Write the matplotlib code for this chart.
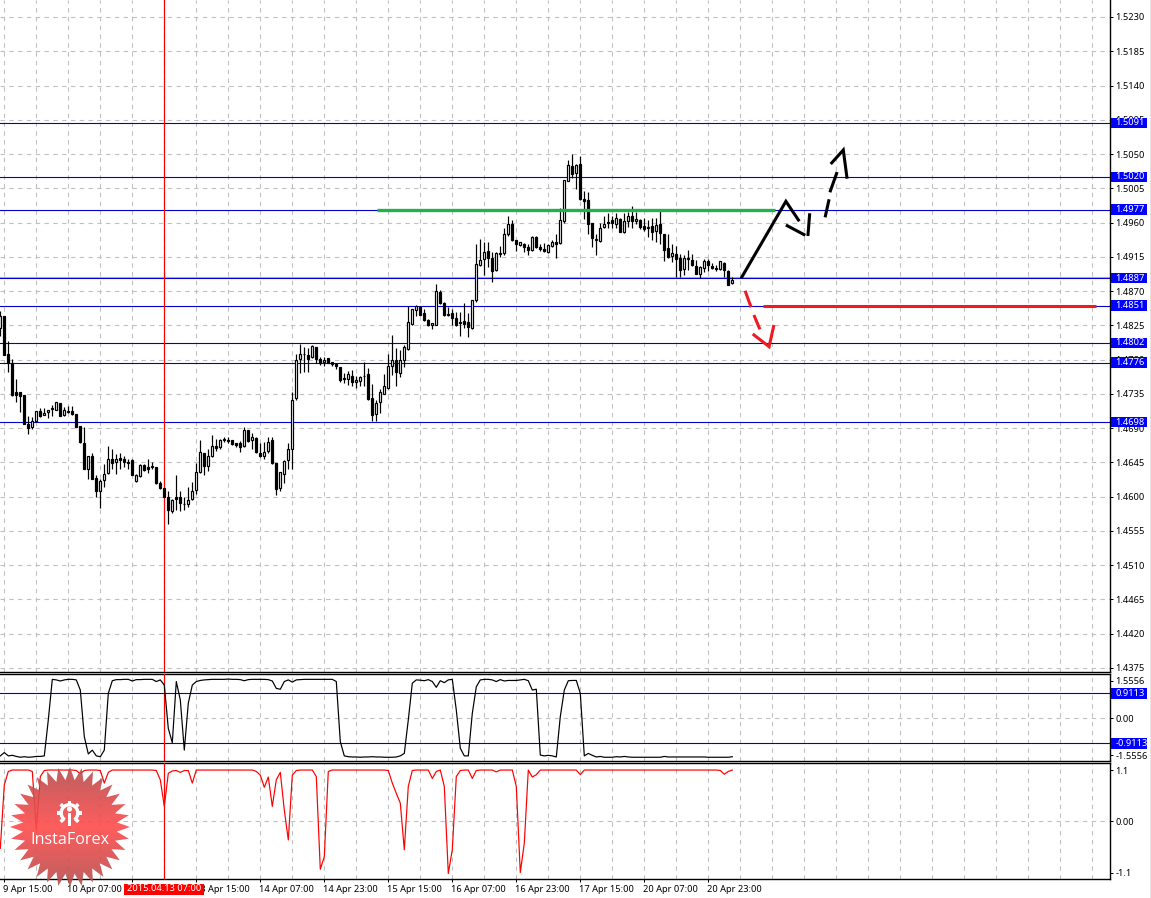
import numpy as np
import matplotlib
matplotlib.use("Agg")
import matplotlib.pyplot as plt
from matplotlib.patches import Rectangle, Polygon, Wedge, Circle
from matplotlib.transforms import ScaledTranslation

plt.rcParams['font.family'] = ['Noto Sans', 'DejaVu Sans']

# ---- data (prices x 10000) ----
opens = [14821,14837,14788,14775,14737,14737,14733,14696,14691,14699,14712,14707,14711,14715,14714,14723,14707,14713,14713,14708,14693,14671,14636,14654,14624,14607,14622,14631,14649,14646,14651,14649,14646,14648,14620,14627,14641,14639,14639,14639,14618,14611,14599,14581,14599,14599,14590,14591,14597,14609,14632,14658,14640,14653,14666,14665,14676,14675,14675,14670,14670,14667,14687,14675,14677,14658,14653,14660,14674,14644,14611,14630,14648,14662,14729,14781,14787,14786,14783,14797,14781,14777,14782,14777,14774,14770,14756,14754,14759,14750,14752,14759,14761,14729,14708,14724,14735,14743,14772,14780,14763,14779,14794,14827,14845,14849,14841,14832,14825,14826,14869,14854,14840,14841,14835,14830,14831,14830,14822,14858,14904,14912,14923,14914,14898,14920,14920,14945,14958,14937,14930,14932,14928,14924,14941,14928,14925,14921,14929,14934,14933,14962,15015,15034,15025,15037,14991,14990,14960,14939,14936,14954,14961,14963,14958,14965,14948,14962,14968,14962,14964,14956,14954,14955,14949,14958,14945,14926,14916,14919,14913,14899,14913,14911,14903,14892,14900,14909,14903,14900,14899,14907,14897,14880]
highs = [14844,14837,14804,14781,14754,14737,14733,14706,14705,14712,14716,14716,14714,14720,14724,14723,14718,14719,14719,14708,14693,14691,14654,14657,14629,14623,14643,14667,14662,14656,14657,14654,14650,14649,14630,14643,14643,14649,14645,14639,14620,14611,14607,14597,14629,14608,14600,14613,14619,14644,14675,14658,14663,14681,14676,14676,14678,14678,14675,14670,14673,14691,14688,14683,14679,14670,14672,14679,14679,14644,14632,14648,14670,14738,14787,14801,14796,14795,14799,14797,14783,14783,14782,14777,14775,14770,14762,14765,14766,14758,14759,14777,14769,14748,14727,14741,14761,14787,14812,14795,14793,14799,14850,14847,14852,14850,14847,14833,14828,14879,14872,14856,14849,14847,14842,14842,14855,14841,14858,14932,14938,14934,14934,14921,14922,14929,14953,14968,14964,14937,14935,14933,14932,14942,14942,14932,14933,14932,14937,14945,14979,15016,15042,15050,15037,15047,15002,15000,14960,14945,14959,14968,14972,14969,14972,14966,14972,14974,14982,14974,14965,14966,14963,14966,14966,14978,14945,14945,14932,14929,14919,14917,14924,14919,14911,14903,14912,14912,14907,14904,14910,14908,14898,14888]
lows = [14811,14786,14764,14732,14724,14711,14695,14682,14689,14698,14705,14707,14703,14706,14714,14706,14706,14710,14707,14691,14670,14636,14623,14623,14599,14585,14613,14630,14637,14630,14636,14639,14636,14628,14619,14626,14634,14631,14636,14617,14610,14599,14564,14578,14583,14581,14582,14586,14595,14604,14631,14628,14634,14652,14660,14662,14672,14670,14668,14665,14659,14665,14672,14662,14657,14652,14650,14658,14643,14602,14607,14618,14636,14637,14727,14763,14764,14764,14782,14775,14773,14772,14775,14772,14768,14751,14749,14747,14746,14743,14745,14745,14727,14700,14700,14710,14735,14741,14760,14745,14757,14770,14793,14826,14837,14838,14831,14824,14820,14825,14853,14837,14837,14825,14824,14811,14822,14810,14820,14856,14903,14891,14902,14882,14896,14915,14918,14943,14936,14923,14929,14921,14917,14923,14926,14923,14922,14920,14928,14913,14932,14960,15014,15018,15004,14990,14965,14945,14928,14918,14935,14953,14953,14953,14953,14947,14946,14954,14953,14958,14952,14949,14941,14937,14934,14932,14910,14914,14908,14888,14888,14891,14898,14903,14892,14887,14895,14896,14899,14897,14898,14889,14878,14879]
closes = [14837,14786,14775,14734,14734,14732,14696,14690,14700,14712,14706,14710,14714,14716,14724,14706,14714,14711,14708,14692,14672,14636,14654,14623,14607,14621,14630,14650,14644,14650,14648,14646,14644,14629,14629,14642,14635,14637,14640,14618,14611,14600,14582,14596,14597,14592,14591,14596,14608,14633,14659,14640,14653,14666,14664,14675,14674,14673,14669,14668,14665,14687,14673,14678,14659,14654,14659,14672,14644,14610,14632,14647,14662,14727,14780,14788,14788,14781,14798,14781,14775,14780,14775,14774,14771,14753,14754,14761,14751,14753,14757,14758,14728,14707,14723,14737,14745,14771,14779,14764,14779,14796,14829,14846,14850,14839,14832,14825,14828,14870,14854,14838,14839,14835,14826,14828,14827,14823,14858,14906,14911,14922,14914,14896,14920,14919,14945,14958,14937,14932,14934,14928,14924,14941,14928,14925,14923,14931,14934,14932,14964,15016,15035,15024,15036,14991,14988,14958,14940,14937,14953,14958,14959,14960,14966,14948,14962,14969,14962,14965,14954,14951,14953,14948,14957,14946,14924,14915,14920,14912,14898,14913,14912,14904,14893,14902,14910,14904,14900,14899,14909,14898,14878,14885]

osc_upper = [-1.37,-1.25,-1.37,-1.35,-1.39,-1.42,-1.40,-1.42,-1.41,-1.39,-1.39,-1.37,-0.06,1.42,1.40,1.36,1.40,1.42,1.42,1.40,1.03,-0.67,-1.30,-1.16,-1.37,-1.40,-1.16,0.91,1.37,1.41,1.41,1.42,1.42,1.36,1.41,1.41,1.42,1.42,1.42,1.34,1.40,1.21,-0.37,-0.89,1.34,0.67,-1.16,0.55,1.21,1.34,1.38,1.40,1.41,1.42,1.42,1.42,1.42,1.43,1.42,1.42,1.41,1.37,1.41,1.42,1.42,1.42,1.42,1.41,1.36,1.09,1.06,1.34,1.40,1.32,1.40,1.41,1.42,1.42,1.42,1.42,1.42,1.42,1.42,1.42,1.34,-0.85,-1.37,-1.40,-1.41,-1.41,-1.42,-1.41,-1.41,-1.40,-1.41,-1.41,-1.42,-1.42,-1.42,-1.41,-1.37,-1.28,-0.06,1.28,1.40,1.39,1.37,1.41,1.34,1.13,1.37,1.30,1.40,1.42,0.30,-1.09,-1.37,-1.37,0.18,1.15,1.40,1.42,1.42,1.40,1.34,1.41,1.36,1.38,1.38,1.38,1.40,1.42,1.37,1.03,1.06,-1.34,-1.37,-1.35,-1.37,-1.41,0.06,1.03,1.37,1.38,1.38,0.91,-1.37,-1.28,-1.35,-1.41,-1.39,-1.42,-1.42,-1.42,-1.40,-1.41,-1.39,-1.41,-1.42,-1.42,-1.42,-1.42,-1.42,-1.42,-1.42,-1.42,-1.39,-1.41,-1.41,-1.41,-1.41,-1.41,-1.41,-1.41,-1.41,-1.41,-1.41,-1.42,-1.42,-1.42,-1.42,-1.42,-1.42,-1.40]
osc_lower = [-0.58,0.78,1.07,1.10,1.10,1.10,1.10,1.10,1.07,-0.19,0.96,1.09,1.10,1.10,1.10,1.10,1.10,1.10,1.10,1.09,1.02,1.09,1.10,1.10,1.10,1.09,0.82,1.05,1.10,1.10,1.10,1.10,1.10,1.10,1.10,1.10,1.10,1.10,1.10,1.09,0.89,0.32,1.03,1.08,1.09,1.05,1.09,1.09,0.82,1.10,1.10,1.10,1.10,1.10,1.10,1.10,1.10,1.10,1.10,1.10,1.10,1.10,1.10,1.10,1.07,0.99,0.73,0.95,0.32,0.89,1.05,0.24,-0.40,0.99,1.09,1.10,1.10,1.10,1.10,0.96,-1.03,-0.76,1.07,1.10,1.10,1.10,1.10,1.10,1.10,1.10,1.10,1.10,1.10,1.10,1.10,1.10,1.10,1.09,0.82,0.60,0.39,-0.61,0.75,1.09,1.10,1.10,1.10,1.10,0.92,1.07,1.10,0.75,-1.12,-0.61,0.96,1.09,1.10,1.10,0.92,1.09,1.10,1.10,1.10,1.10,1.06,1.10,1.10,1.10,1.10,0.75,-1.10,-0.47,1.10,0.95,1.00,1.10,1.10,1.10,1.10,1.10,1.10,1.10,1.10,1.10,1.10,1.00,1.10,1.10,1.10,1.10,1.10,1.10,1.10,1.10,1.10,1.10,1.10,1.10,1.10,1.10,1.10,1.10,1.10,1.10,1.10,1.10,1.10,1.10,1.10,1.10,1.10,1.10,1.10,1.10,1.10,1.10,1.10,1.10,1.10,1.10,1.09,1.01,1.07,1.10]

price_ticks = [1.5230,1.5185,1.5140,1.5095,1.5050,1.5005,1.4960,1.4915,1.4870,1.4825,1.4780,1.4735,1.4690,1.4645,1.4600,1.4555,1.4510,1.4465,1.4420,1.4375]
levels = [1.5091,1.5020,1.4977,1.4887,1.4851,1.4802,1.4776,1.4698]
upper_ticks = [1.36,0.00,-1.34]
upper_tick_labels = ['1.5556','0.00','-1.5556']
upper_levels = [0.9113,-0.9113]
lower_ticks = [1.1,0.00,-1.1]
lower_tick_labels = ['1.1','0.00','-1.1']
date_labels = ['9 Apr 15:00','10 Apr 07:00','10 Apr 23:00','13 Apr 15:00','14 Apr 07:00','14 Apr 23:00','15 Apr 15:00','16 Apr 07:00','16 Apr 23:00','17 Apr 15:00','20 Apr 07:00','20 Apr 23:00']
cursor_label = '2015.04.13 07:00'
cursor_bar = 41

# hand-drawn annotations: (bar, price) paths
black_paths = [[(185.2,1.48868),(196.4,1.49879),(199.75,1.49617)],
               [(196.4,1.49568),(201.25,1.49433)],
               [(201.9,1.49424),(202.35,1.49722)],
               [(206.2,1.49669),(207.2,1.49906)],
               [(207.4,1.49998),(209.2,1.50264)],
               [(207.6,1.50369),(210.75,1.50553),(211.7,1.50176)]]
red_paths = [[(186.2,1.48705),(187.7,1.48487)],
             [(188.4,1.48386),(189.9,1.48198)],
             [(188.1,1.48137),(192.2,1.47970),(193.4,1.48255)]]
red_segment = [(190.7,1.48500),(273.9,1.48500)]
green_segment = [(94.2,1.49761),(193.7,1.49761)]
current_price = 1.48885

# ---- layout ----
W, H = 1151, 898
BLUE = '#0000d0'
BOX = '#0000ff'
GRID = '#c0c0c0'
RED = '#ff0000'
PX = 0.72
FS = 6.7

fig = plt.figure(figsize=(W/100, H/100), dpi=100, facecolor='white')

def make_axes(top, bottom):
    return fig.add_axes([0, 1-bottom/H, 1109.7/W, (bottom-top)/H])

ax_main = make_axes(0, 672.3)
ax_up = make_axes(674.3, 761)
ax_lo = make_axes(763.3, 879)

xlim = (-0.3/4, (1109.7-0.3)/4)
scale = 7614.0
ax_main.set_ylim(1.5230-(672.3-17)/scale, 1.5230+17/scale)
ax_up.set_ylim((718.3-761)/27.43, (718.3-674.3)/27.43)
ax_lo.set_ylim((821.3-879)/46.6, (821.3-763.3)/46.6)

grid_bars = np.arange(1, 278, 8)
tick_bars = np.arange(1, 1+16*len(date_labels), 16)

for ax, yt in ((ax_main, price_ticks), (ax_up, upper_ticks), (ax_lo, lower_ticks)):
    ax.set_xlim(*xlim)
    ax.set_facecolor('white')
    ax.yaxis.tick_right()
    ax.set_yticks(yt)
    ax.tick_params(axis='y', length=2.2, width=PX, pad=1.8, labelsize=FS, colors='black')
    ax.spines['left'].set_visible(False)
    for s in ('top', 'bottom', 'right'):
        ax.spines[s].set_linewidth(1.0)
    for b in grid_bars:
        ax.axvline(b, color=GRID, lw=PX*1.1, ls=(0, (4, 4)), zorder=0)
    ax.set_axisbelow(True)
    ax.axvline(cursor_bar, color=RED, lw=PX*1.2, zorder=3.5)

ax_main.spines['top'].set_visible(False)
ax_main.set_xticks([])
ax_up.set_xticks([])
for p in price_ticks:
    ax_main.axhline(p, color=GRID, lw=PX*1.1, ls=(0, (4, 4)), zorder=0)
ax_up.axhline(0, color=GRID, lw=PX*1.1, ls=(0, (4, 4)), zorder=0)
ax_lo.axhline(0, color=GRID, lw=PX*1.1, ls=(0, (4, 4)), zorder=0)

ax_up.set_yticklabels(upper_tick_labels)
ax_lo.set_yticklabels(lower_tick_labels)
ax_main.set_yticklabels([f'{v:.4f}' for v in price_ticks])

# x axis
ax_lo.set_xticks(tick_bars)
ax_lo.set_xticklabels(date_labels)
ax_lo.tick_params(axis='x', length=2.2, width=PX, pad=2.0, labelsize=FS)
shift = ScaledTranslation(-1.4/100, 0, fig.dpi_scale_trans)
for lab in ax_lo.get_xticklabels():
    lab.set_ha('left')
    lab.set_transform(lab.get_transform() + shift)
ax_lo.set_xlim(*xlim)

# levels
ax_main.axhline(current_price, color='#b4b4b4', lw=PX*1.2, zorder=1)
for lv in levels:
    ax_main.axhline(lv, color=BLUE, lw=PX*1.1, zorder=2)
for lv in upper_levels:
    ax_up.axhline(lv, color=BLUE, lw=PX*1.1, zorder=2)

# candles
o = np.array(opens)/1e4
h = np.array(highs)/1e4
l = np.array(lows)/1e4
c = np.array(closes)/1e4
bars = np.arange(len(o))
ax_main.vlines(bars, l, h, color='black', lw=PX*1.2, zorder=4)
up = c >= o
ax_main.bar(bars[up], (c-o)[up], bottom=o[up], width=0.5, facecolor='white',
            edgecolor='black', linewidth=PX*1.2, zorder=4.2)
ax_main.bar(bars[~up], (c-o)[~up], bottom=o[~up], width=0.5, facecolor='black',
            edgecolor='black', linewidth=PX*1.2, zorder=4.2)

# annotations
def draw_path(pts, color, lw):
    xs, ys = zip(*pts)
    ax_main.plot(xs, ys, color=color, lw=lw, solid_capstyle='butt',
                 solid_joinstyle='miter', zorder=5)

for p in black_paths:
    draw_path(p, 'black', 2.2)
for p in red_paths:
    draw_path(p, '#ed1c24', 2.2)
draw_path(red_segment, '#ed1c24', 2.2)
draw_path(green_segment, '#22b14c', 2.4)

# oscillators
ax_up.plot(bars, osc_upper, color='black', lw=PX*1.2, zorder=4)
ax_lo.plot(bars, osc_lower, color=RED, lw=PX*1.2, zorder=4)

# level boxes on the right axis
def level_box(ax, value, text, px_per_unit):
    tr = ax.get_yaxis_transform()
    hh = 5.3/px_per_unit
    x0, x1 = 1111/1109.7, 1147/1109.7
    ax.add_patch(Rectangle((x0, value-hh), x1-x0, 2*hh, transform=tr, clip_on=False,
                           fc=BOX, ec='none', zorder=6))
    ax.text(1115.6/1109.7, value, text, transform=tr, color='white', fontsize=FS,
            ha='left', va='center', zorder=7, clip_on=False)

for lv in levels:
    level_box(ax_main, lv, f'{lv:.4f}', scale)
for lv in upper_levels:
    level_box(ax_up, lv, f'{lv:.4f}', 27.43)

# overlay in pixel space: cursor label and logo
ov = fig.add_axes([0, 0, 1, 1], facecolor='none')
ov.set_xlim(0, W)
ov.set_ylim(H, 0)
ov.axis('off')

ov.add_patch(Rectangle((124, 883.5), 80, 11, fc=RED, ec='none', zorder=3))
ov.text(164, 888.8, cursor_label, color='white', fontsize=FS, ha='center', va='center', zorder=4)

# window edge
ov.plot([0, W], [897.5, 897.5], color='#e4e4e4', lw=PX)
ov.plot([1150.5, 1150.5], [0, H], color='#e4e4e4', lw=PX)

# logo star
cx, cy, Ro, Ri = 70.0, 827.0, 60.0, 47.0
n = 32
ang = np.arange(2*n)*np.pi/n - np.pi/2
rad = np.where(np.arange(2*n) % 2 == 0, Ro, Ri)
star = np.column_stack([cx+rad*np.cos(ang), cy+rad*np.sin(ang)])
yy, xx = np.mgrid[0:121, 0:121]
t = np.clip(np.abs(yy-60)/60.0, 0, 1)
img = np.zeros((121, 121, 4))
img[..., 0] = (255-75*t)/255
img[..., 1] = (74+4*t)/255
img[..., 2] = (74+4*t)/255
img[..., 3] = 0.9
im = ov.imshow(img, extent=(cx-60.5, cx+60.5, cy+60.5, cy-60.5), aspect='auto', zorder=1, interpolation='bilinear')
poly = Polygon(star, closed=True, transform=ov.transData, fc='none', ec='none')
ov.add_patch(poly)
im.set_clip_path(poly)
ov.set_xlim(0, W)
ov.set_ylim(H, 0)

gx, gy = 69.5, 813.0
# y axis is inverted here: data angles 130..410 run around the top, leaving the bottom open
ov.add_patch(Wedge((gx, gy), 10.0, 125, 415, width=3.4, fc='white', ec='none', zorder=2))
for deg in (90, 45, 0, -45, 135, 180, 225):
    a = np.deg2rad(deg)
    ca, sa = np.cos(a), np.sin(a)
    ox, oy = ca*10.5, -sa*10.5
    nx, ny = sa*1.8, ca*1.8
    ov.add_patch(Polygon([(gx+ox-ca*2+nx, gy+oy+sa*2+ny),
                          (gx+ox-ca*2-nx, gy+oy+sa*2-ny),
                          (gx+ox+ca*2-nx, gy+oy-sa*2-ny),
                          (gx+ox+ca*2+nx, gy+oy-sa*2+ny)], fc='white', ec='none', zorder=2))
ov.add_patch(Circle((gx, gy-4), 2.6, fc='white', ec='none', zorder=2))
ov.add_patch(Rectangle((gx-1.4, gy-0.5), 2.8, 13.5, fc='white', ec='none', zorder=2))
ov.text(69.7, 840.5, 'InstaForex', color='white', fontsize=11.6, ha='center', va='center',
        family=['Open Sans', 'DejaVu Sans'], zorder=3)

fig.savefig('out.png', dpi=100, facecolor='white')
